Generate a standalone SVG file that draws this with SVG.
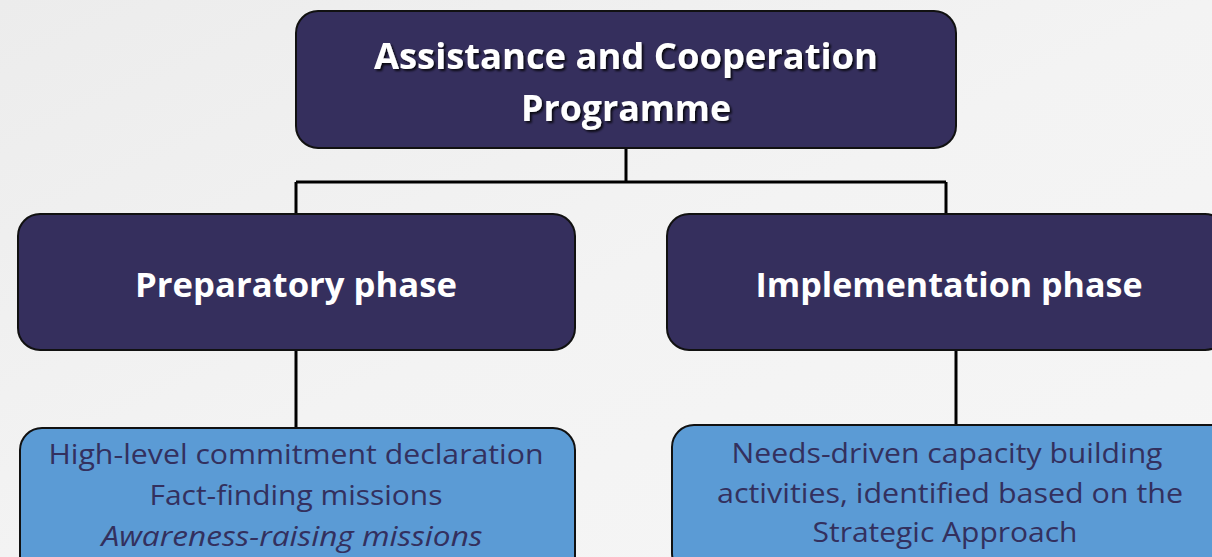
<svg xmlns="http://www.w3.org/2000/svg" width="1212" height="557" viewBox="0 0 1212 557">
<defs>
<linearGradient id="bg" x1="0" y1="0" x2="1" y2="1">
<stop offset="0" stop-color="#ECECEC"/>
<stop offset="0.5" stop-color="#F3F3F3"/>
<stop offset="1" stop-color="#F6F6F6"/>
</linearGradient>
<filter id="ts" x="-10%" y="-30%" width="120%" height="160%">
<feDropShadow dx="2" dy="2" stdDeviation="1" flood-color="#000" flood-opacity="0.8"/>
</filter>
</defs>
<style>
.dark{fill:#352F5D;stroke:#111;stroke-width:2}
.light{fill:#5B9BD5;stroke:#111;stroke-width:2}
.h{font-family:"Open Sans","Noto Sans",sans-serif;font-weight:bold;fill:#FFFFFF;text-anchor:middle}
.b{font-family:"Open Sans","Noto Sans",sans-serif;fill:#33305E;text-anchor:middle;font-size:28px}
.conn{stroke:#000;stroke-width:3;fill:none}
</style>
<rect width="1212" height="557" fill="url(#bg)"/>
<g id="connectors">
<path class="conn" d="M626 148 V182 M296 182 H946 M296 182 V214 M946 182 V214"/>
<path class="conn" d="M296 350 V428"/>
<path class="conn" d="M956 350 V426"/>
</g>
<g id="top">
<rect class="dark" x="296" y="11" width="660" height="137" rx="22"/>
<g filter="url(#ts)">
<text class="h" x="626" y="69" font-size="35" textLength="504" lengthAdjust="spacingAndGlyphs">Assistance and Cooperation</text>
<text class="h" x="626" y="121" font-size="35" textLength="210" lengthAdjust="spacingAndGlyphs">Programme</text>
</g>
</g>
<g id="prep">
<rect class="dark" x="18" y="214" width="557" height="136" rx="22"/>
<text class="h" x="296" y="297" font-size="34" textLength="322" lengthAdjust="spacingAndGlyphs">Preparatory phase</text>
</g>
<g id="impl">
<rect class="dark" x="667" y="214" width="560" height="136" rx="22"/>
<text class="h" x="949" y="297" font-size="34" textLength="387" lengthAdjust="spacingAndGlyphs">Implementation phase</text>
</g>
<g id="prep-items">
<rect class="light" x="20" y="428" width="555" height="150" rx="22"/>
<text class="b" x="296" y="464" textLength="495" lengthAdjust="spacingAndGlyphs">High-level commitment declaration</text>
<text class="b" x="296" y="505" textLength="293" lengthAdjust="spacingAndGlyphs">Fact-finding missions</text>
<text class="b" x="292" y="546" font-style="italic" textLength="381" lengthAdjust="spacingAndGlyphs">Awareness-raising missions</text>
</g>
<g id="impl-items">
<rect class="light" x="672" y="425" width="560" height="150" rx="22"/>
<text class="b" x="947" y="463" textLength="431" lengthAdjust="spacingAndGlyphs">Needs-driven capacity building</text>
<text class="b" x="950" y="503" textLength="466" lengthAdjust="spacingAndGlyphs">activities, identified based on the</text>
<text class="b" x="945" y="542" textLength="265" lengthAdjust="spacingAndGlyphs">Strategic Approach</text>
</g>
</svg>
